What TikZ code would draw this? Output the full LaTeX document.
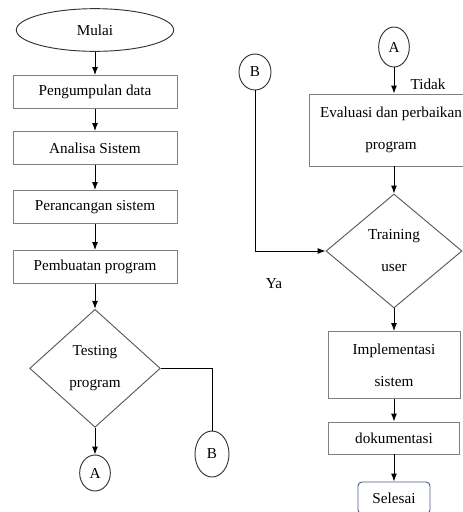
\documentclass[tikz,border=0pt]{standalone}
\usepackage{fontspec}
\setmainfont{Liberation Serif}
\usepackage{tikz}
\usetikzlibrary{shapes.geometric, arrows.meta, positioning}
\definecolor{slateblue}{HTML}{4A5E80}

\begin{document}
\begin{tikzpicture}[node distance=45pt, font=\fontsize{11.4}{24}\selectfont]
    \tikzstyle{startstop} = [ellipse, draw=black!80, line width=0.7pt, minimum width=118pt, minimum height=32pt, inner sep=0pt]
    \tikzstyle{process} = [rectangle, draw=black!50, line width=0.7pt, minimum width=123pt, minimum height=24.75pt, align=center]
    \tikzstyle{decision} = [diamond, draw=black!65, line width=0.7pt, minimum width=98pt, minimum height=88.5pt, inner sep=0pt, align=center]
    \tikzstyle{connector} = [ellipse, draw=black!80, line width=0.7pt, minimum width=23pt, minimum height=27pt, inner sep=0pt]
    \tikzstyle{line} = [draw, -{Latex[length=6pt,width=4.5pt]}, line width=0.7pt]

    \useasboundingbox (0,0) rectangle (346.5pt,-384pt);

    % left column
    \node [startstop] (mulai) at (71.25pt,-22.5pt) {Mulai};
    \node [process, below of=mulai, yshift=-1.5pt] (kumpul) {Pengumpulan data};
    \node [process, below of=kumpul, yshift=3pt] (analisa) {Analisa Sistem};
    \node [process, below of=analisa, yshift=0.75pt] (rancang) {Perancangan sistem};
    \node [process, below of=rancang] (buat) {Pembuatan program};
    \node [decision, below of=buat, yshift=-31pt] (testing) {Testing\\program};
    \node [connector, below of=testing, yshift=-33.5pt] (a1) {A};
    \node [connector, right of=testing, xshift=42.75pt, yshift=-64.25pt, minimum width=25.5pt, minimum height=34.5pt] (b1) {B};

    % right column
    \node [connector, right of=mulai, xshift=179.25pt, yshift=-12.75pt, minimum height=30pt] (a2) {A};
    \node [connector, left of=a2, xshift=-59.25pt, yshift=-18.75pt, minimum width=24pt] (b2) {B};
    \node [process, below of=a2, xshift=-2.25pt, yshift=-17.25pt, minimum height=54pt] (evaluasi) {Evaluasi dan perbaikan\\program};
    \node [decision, below of=a2, yshift=-108pt, minimum width=102pt, minimum height=85.5pt] (training) {Training\\user};
    \node [process, below of=training, yshift=-40.5pt, minimum width=99pt, minimum height=50.25pt] (implementasi) {Implementasi\\sistem};
    \node [process, below of=implementasi, yshift=-9.75pt, minimum width=98.25pt, minimum height=24pt] (dokumentasi) {dokumentasi};
    \node [rectangle, rounded corners=3pt, draw=slateblue, line width=0.7pt, below of=dokumentasi, minimum width=54pt, minimum height=24pt] (selesai) {Selesai};

    \node [right of=a2, xshift=-19.5pt, yshift=-27.75pt] (tidak) {Tidak};
    \node [left of=training, xshift=-45pt, yshift=-24.75pt] (ya) {Ya};

    \path [line] (mulai) -- (kumpul);
    \path [line] (kumpul) -- (analisa);
    \path [line] (analisa) -- (rancang);
    \path [line] (rancang) -- (buat);
    \path [line] (buat) -- (testing);
    \path [line] (testing) -- (a1);
    \draw [line width=0.7pt] (testing) -| (b1);

    \path [line] (a2) -- (a2 |- evaluasi.north);
    \path [line] (evaluasi.south -| training) -- (training);
    \path [line] (b2) |- (training);
    \path [line] (training) -- (implementasi);
    \path [line] (implementasi) -- (dokumentasi);
    \path [line] (dokumentasi) -- (selesai);
\end{tikzpicture}
\end{document}
